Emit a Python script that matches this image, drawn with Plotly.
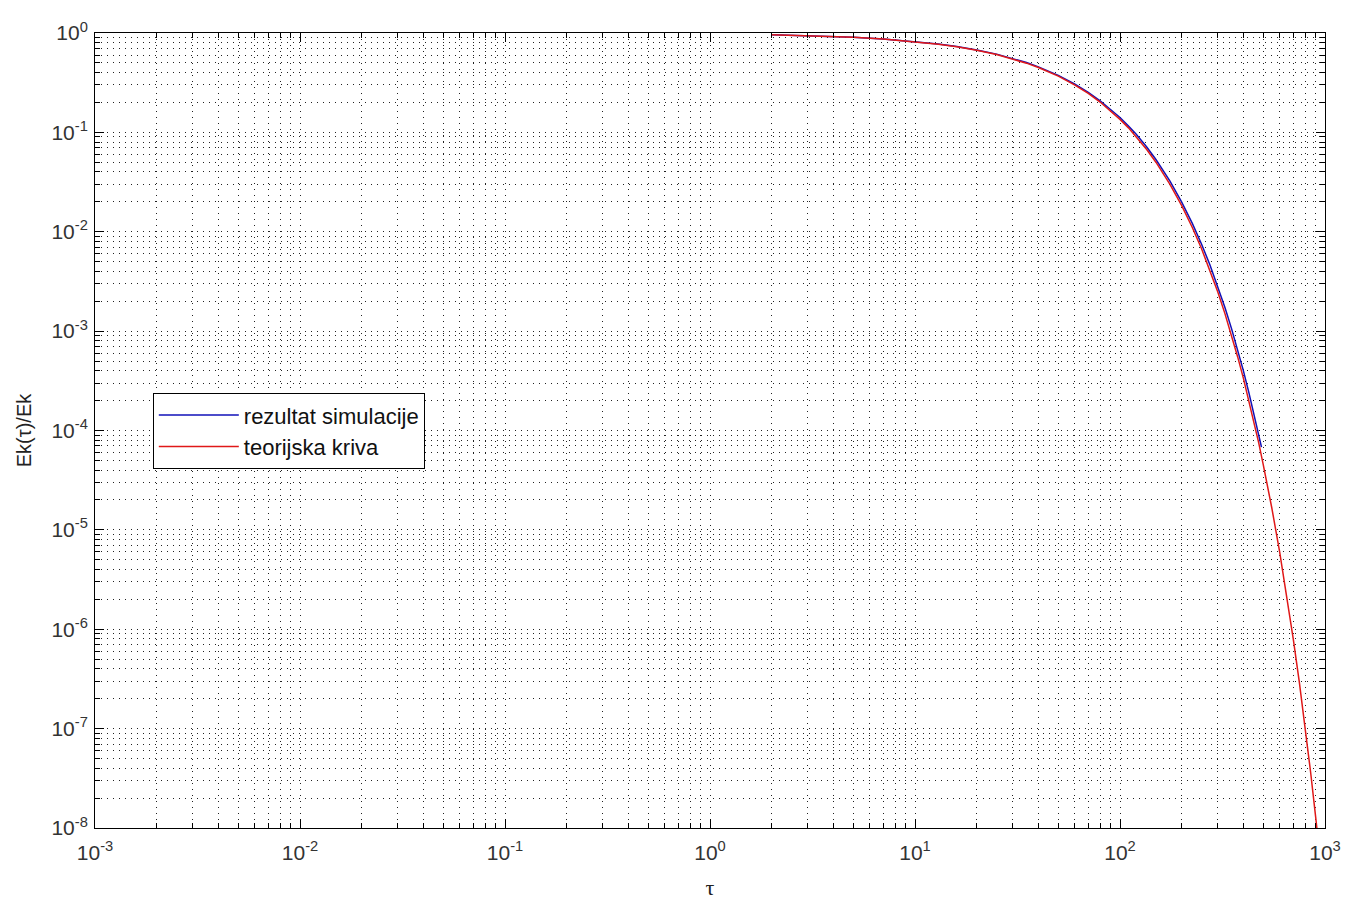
import plotly.graph_objects as go

# ---- data ----
tau_sim = [2, 3, 4, 5, 7, 10, 13, 16, 20, 25, 30, 35, 40, 45, 50, 60, 70, 80,
           90, 100, 110, 120, 135, 150, 175, 200, 225, 250, 275, 300, 325, 350,
           375, 400, 425, 450, 475, 490]
ek_sim = [0.962, 0.942, 0.925, 0.907, 0.872, 0.823, 0.776, 0.731, 0.676, 0.613,
          0.556, 0.504, 0.456, 0.414, 0.375, 0.308, 0.253, 0.208, 0.171, 0.141,
          0.116, 0.0955, 0.0712, 0.053, 0.0325, 0.0199, 0.0122, 0.0075, 0.0046,
          0.00283, 0.00173, 0.00106, 6.5e-4, 3.98e-4, 2.42e-4, 1.48e-4, 9.1e-5,
          6.8e-5]

tau_teor = [2, 3, 4, 5, 7, 10, 13, 16, 20, 25, 30, 35, 40, 45, 50, 60, 70, 80,
            90, 100, 110, 120, 135, 150, 175, 200, 225, 250, 275, 300, 325, 350,
            375, 400, 425, 450, 475, 500, 550, 600, 650, 700, 750, 800, 850, 900,
            930]
ek_teor = [0.96, 0.941, 0.923, 0.905, 0.869, 0.819, 0.771, 0.726, 0.670, 0.607,
           0.549, 0.497, 0.449, 0.407, 0.368, 0.301, 0.247, 0.202, 0.165, 0.135,
           0.111, 0.0907, 0.0672, 0.0498, 0.0302, 0.0183, 0.0111, 0.00674,
           0.00409, 0.00248, 0.0015, 9.1e-4, 5.5e-4, 3.35e-4, 2.0e-4, 1.23e-4,
           7.5e-5, 4.5e-5, 1.67e-5, 6.1e-6, 2.2e-6, 8.0e-7, 2.9e-7, 1.05e-7,
           3.7e-8, 1.3e-8, 7e-9]

x_exps = [-3, -2, -1, 0, 1, 2, 3]
y_exps = [0, -1, -2, -3, -4, -5, -6, -7, -8]

series_names = ["rezultat simulacije", "teorijska kriva"]

fig = go.Figure()
fig.add_trace(go.Scatter(x=tau_sim, y=ek_sim, mode="lines", name=series_names[0],
                         line=dict(color="#1010b8", width=1.5)))
fig.add_trace(go.Scatter(x=tau_teor, y=ek_teor, mode="lines", name=series_names[1],
                         line=dict(color="#e01818", width=1.5)))

font_main = "Liberation Sans, Arial, sans-serif"
dots = "1px,5px"

common = dict(
    type="log", showline=True, linecolor="black", linewidth=1, mirror="ticks",
    ticks="inside", ticklen=9, tickcolor="black", tickwidth=1,
    showgrid=True, gridcolor="#222", gridwidth=1, griddash=dots,
    zeroline=False, automargin=False,
    tickfont=dict(family=font_main, size=21, color="#333"),
    minor=dict(ticks="inside", ticklen=5, tickcolor="black", dtick="D1",
               showgrid=True, gridcolor="#222", gridwidth=1, griddash=dots),
)

fig.update_xaxes(
    range=[-3, 3],
    tickvals=[10 ** e for e in x_exps],
    ticktext=[f"10<sup>{e}</sup>" for e in x_exps],
    ticklabelstandoff=6,
    title=dict(text="τ", font=dict(family="Liberation Serif, serif", size=22, color="#222"),
               standoff=16),
    **common,
)
fig.update_yaxes(
    range=[-8, 0],
    tickvals=[10 ** e for e in y_exps],
    ticktext=[f"10<sup>{e}</sup>" for e in y_exps],
    ticklabelstandoff=2,
    title=dict(text="Ek(τ)/Ek", font=dict(family=font_main, size=20, color="#222"),
               standoff=14),
    **common,
)

fig.update_layout(
    width=1353, height=900,
    margin=dict(l=95, r=28, t=33, b=72),
    plot_bgcolor="white", paper_bgcolor="white",
    legend=dict(x=0.047, y=0.547, xanchor="left", yanchor="top",
                bgcolor="white", bordercolor="black", borderwidth=1,
                font=dict(family=font_main, size=22, color="#111"),
                itemwidth=80, tracegroupgap=0),
    showlegend=True,
)

fig.write_html("out.html")
